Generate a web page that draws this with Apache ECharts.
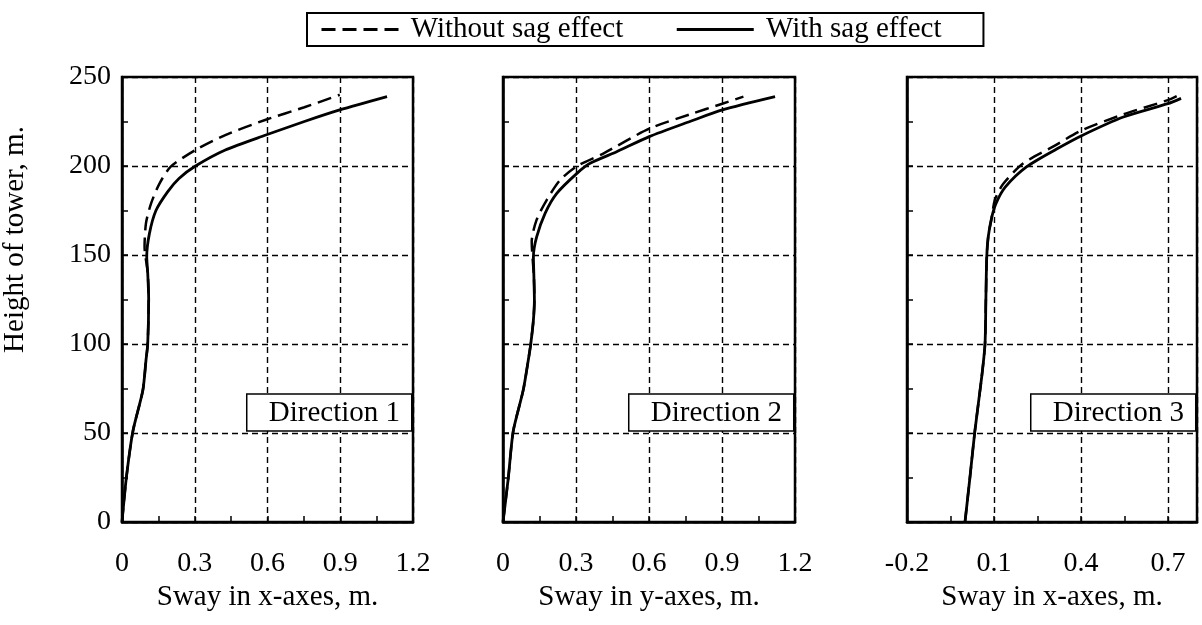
<!DOCTYPE html>
<html>
<head>
<meta charset="utf-8">
<script src="https://cdn.jsdelivr.net/npm/echarts@6/dist/echarts.min.js"></script>
<style>
html,body{margin:0;padding:0;background:#fff;}
#chart{width:1202px;height:625px;}
</style>
</head>
<body>
<div id="chart"></div>
<script>
// ---- Data (sway in m, height in m) ----
const seriesNames = ['Without sag effect', 'With sag effect'];
const panelTitles = ['Direction 1', 'Direction 2', 'Direction 3'];
const xAxisNames = ['Sway in x-axes, m.', 'Sway in y-axes, m.', 'Sway in x-axes, m.'];
const yAxisName = 'Height of tower, m.';

// Direction 1
const d1WithX = [0, 0.018, 0.045, 0.086, 0.099, 0.106, 0.110, 0.106, 0.102, 0.113, 0.140, 0.188, 0.235, 0.303, 0.426, 0.593, 0.752, 0.898, 1.093];
const d1WithY = [0, 25, 51, 74, 91, 100, 125, 140, 149, 162, 175, 185.5, 193, 200, 209, 217.4, 225, 231.5, 239];
const d1WithoutX = [0, 0.018, 0.045, 0.086, 0.099, 0.106, 0.110, 0.106, 0.093, 0.099, 0.120, 0.154, 0.201, 0.303, 0.426, 0.593, 0.752, 0.898];
const d1WithoutY = [0, 25, 51, 74, 91, 100, 125, 140, 154.7, 168, 179, 190, 199.6, 209, 217.4, 226, 233, 240];

// Direction 2
const d2WithX = [0, 0.022, 0.042, 0.083, 0.104, 0.114, 0.125, 0.129, 0.127, 0.125, 0.138, 0.173, 0.221, 0.305, 0.358, 0.467, 0.601, 0.768, 0.901, 1.118];
const d2WithY = [0, 25, 51, 74, 91, 100, 113.5, 125, 138, 149, 160, 173.4, 184.6, 196, 201.5, 208, 216.5, 225, 231.5, 239];
const d2WithoutX = [0, 0.022, 0.042, 0.083, 0.104, 0.114, 0.125, 0.129, 0.127, 0.118, 0.138, 0.180, 0.234, 0.305, 0.412, 0.601, 0.768, 0.901, 0.988];
const d2WithoutY = [0, 25, 51, 74, 91, 100, 113.5, 125, 138, 157.5, 169.7, 181, 192, 200, 207, 221, 229, 235, 239];

// Direction 3
const d3WithX = [0, 0.017, 0.034, 0.058, 0.069, 0.072, 0.075, 0.080, 0.092, 0.107, 0.138, 0.213, 0.316, 0.402, 0.546, 0.699, 0.745];
const d3WithY = [0, 25, 51, 82, 100, 125, 149, 160, 171, 179, 188, 199.6, 209.5, 217, 227.5, 235, 238];
const d3WithoutX = [0, 0.017, 0.034, 0.058, 0.069, 0.072, 0.075, 0.080, 0.092, 0.103, 0.132, 0.201, 0.305, 0.402, 0.546, 0.699, 0.730];
const d3WithoutY = [0, 25, 51, 82, 100, 125, 149, 160, 171, 181, 190, 201.5, 211, 220, 229, 237, 239.3];

const xTickMin = [0, 0, -0.2];
const xTickMax = [1.2, 1.2, 0.8];
const xTickStep = 0.3;
const yTickMin = 0, yTickMax = 250, yTickStep = 50;

function pairs(xs, ys) { return xs.map((x, i) => [x, ys[i]]); }
const panelData = [
  [pairs(d1WithoutX, d1WithoutY), pairs(d1WithX, d1WithY)],
  [pairs(d2WithoutX, d2WithoutY), pairs(d2WithX, d2WithY)],
  [pairs(d3WithoutX, d3WithoutY), pairs(d3WithX, d3WithY)]
];

// ---- Layout ----
const FONT = 'Liberation Serif';
const gridBoxes = [
  {left: 119, top: 77, width: 294, height: 445},
  {left: 503, top: 77, width: 292, height: 445},
  {left: 907, top: 77, width: 290, height: 445}
];
const titleRight = [790, 408, 6];

const dashed = {type: [6, 4], color: '#000', width: 1.4};

const grids = gridBoxes.map(b => Object.assign({show: true, borderColor: '#000', borderWidth: 2.5, backgroundColor: '#fff'}, b));

const xAxes = gridBoxes.map((b, i) => ({
  type: 'value', gridIndex: i,
  min: xTickMin[i], max: xTickMax[i], interval: xTickStep,
  axisLine: {show: true, onZero: false, lineStyle: {color: '#000', width: 2.5}},
  axisTick: {show: true, inside: true, length: 6, lineStyle: {color: '#000', width: 1.5}},
  minorTick: {show: true, splitNumber: 2, length: 6, lineStyle: {color: '#000', width: 1.5}},
  splitLine: {show: true, lineStyle: dashed},
  axisLabel: {show: true, margin: 28, color: '#000', fontFamily: FONT, fontSize: 28, showMaxLabel: i === 2 ? false : true},
  name: xAxisNames[i], nameLocation: 'middle', nameGap: 56,
  nameTextStyle: {color: '#000', fontFamily: FONT, fontSize: 29}
}));

const yAxes = gridBoxes.map((b, i) => ({
  type: 'value', gridIndex: i,
  min: yTickMin, max: yTickMax, interval: yTickStep,
  axisLine: {show: true, onZero: false, lineStyle: {color: '#000', width: 2.5}},
  axisTick: {show: true, inside: true, length: 6, lineStyle: {color: '#000', width: 1.5}},
  minorTick: {show: true, splitNumber: 2, length: 6, lineStyle: {color: '#000', width: 1.5}},
  splitLine: {show: true, lineStyle: dashed},
  axisLabel: {show: i === 0, margin: 11, color: '#000', fontFamily: FONT, fontSize: 28},
  name: i === 0 ? yAxisName : '', nameLocation: 'middle', nameGap: 92,
  nameTextStyle: {color: '#000', fontFamily: FONT, fontSize: 29, padding: [0, 0, 0, 120]}
}));

const series = [];
panelData.forEach((pd, i) => {
  series.push({
    name: seriesNames[0], type: 'line', xAxisIndex: i, yAxisIndex: i,
    data: pd[0], showSymbol: false, symbol: 'none', smooth: 0.25, z: 3,
    color: '#000', itemStyle: {color: '#000'},
    lineStyle: {color: '#000', width: 2.5, type: [14, 7]}
  });
  series.push({
    name: seriesNames[1], type: 'line', xAxisIndex: i, yAxisIndex: i,
    data: pd[1], showSymbol: false, symbol: 'none', smooth: 0.25, z: 4,
    color: '#000', itemStyle: {color: '#000'},
    lineStyle: {color: '#000', width: 2.8, type: 'solid'}
  });
});

const titles = panelTitles.map((t, i) => ({
  text: t, right: titleRight[i], top: 394,
  backgroundColor: '#fff', borderColor: '#000', borderWidth: 1.5,
  padding: [3, 12, 2, 22],
  textStyle: {color: '#000', fontFamily: FONT, fontSize: 29, fontWeight: 'normal', lineHeight: 32}
}));

const chart = echarts.init(document.getElementById('chart'), null, {renderer: 'canvas'});
chart.setOption({
  animation: false,
  backgroundColor: '#fff',
  title: titles,
  legend: {
    show: true,
    left: 307, top: 13,
    orient: 'horizontal',
    borderColor: '#000', borderWidth: 2, backgroundColor: '#fff',
    padding: [2, 42, 2, 13],
    itemWidth: 77, itemHeight: 20, itemGap: 52,
    itemStyle: {color: 'rgba(0,0,0,0)', borderWidth: 0, opacity: 0},
    lineStyle: {width: 3},
    data: seriesNames,
    formatter: function (name) { return ' ' + name; },
    textStyle: {color: '#000', fontFamily: FONT, fontSize: 29}
  },
  grid: grids,
  xAxis: xAxes,
  yAxis: yAxes,
  series: series
});
</script>
</body>
</html>
